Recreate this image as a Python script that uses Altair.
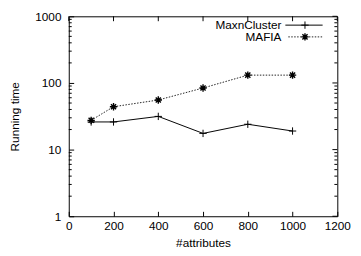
import altair as alt
import pandas as pd

# ---- data ----
attributes = [100, 200, 400, 600, 800, 1000]
maxncluster = [26, 26, 31.5, 17.5, 24, 19]
mafia = [27.5, 44, 55.5, 84, 131, 131]
series_names = ["MaxnCluster", "MAFIA"]
x_ticks = [0, 200, 400, 600, 800, 1000, 1200]
y_ticks = [1, 10, 100, 1000]
y_minor = [m * 10 ** e for e in range(3) for m in range(2, 10)]

W, H = 274, 204
FONT = "Liberation Sans"
FS = 12

xs = alt.Scale(domain=[0, 1200], nice=False, zero=False)
ys = alt.Scale(type="log", domain=[1, 1000], nice=False)

xaxis = alt.Axis(values=x_ticks, format="d", title="#attributes", offset=-5, tickSize=5,
                 domain=False, grid=False, labelPadding=5, labelFontSize=FS,
                 titleFontSize=FS, titleFontWeight="normal", labelFont=FONT,
                 titleFont=FONT, tickColor="black", labelColor="black",
                 titleColor="black", titleY=32, titleBaseline="middle",
                 labelFlush=False, labelOverlap=False)
yaxis = alt.Axis(values=y_ticks, format="d", title="Running time", offset=-5,
                 tickSize=5, domain=False, grid=False, labelPadding=8,
                 labelFontSize=FS, titleFontSize=FS, titleFontWeight="normal",
                 labelFont=FONT, titleFont=FONT, tickColor="black",
                 labelColor="black", titleColor="black", titleX=-60, titleY=102,
                 titleAngle=270, titleBaseline="middle", titleAlign="center",
                 labelFlush=False, labelOverlap=False)


def X(field="x"):
    return alt.X(f"{field}:Q", scale=xs, axis=xaxis)


def Y(field="y"):
    return alt.Y(f"{field}:Q", scale=ys, axis=yaxis)


df_max = pd.DataFrame({"x": attributes, "y": maxncluster})
df_maf = pd.DataFrame({"x": attributes, "y": mafia})

plus = "M-1,0L1,0M0,-1L0,1"
star = "M-1,0L1,0M0,-1L0,1M-0.7,-0.7L0.7,0.7M-0.7,0.7L0.7,-0.7"

line_max = alt.Chart(df_max).mark_line(color="black", strokeWidth=1).encode(x=X(), y=Y())
pts_max = alt.Chart(df_max).mark_point(shape=plus, filled=False, color="black",
                                       strokeWidth=1, size=56, opacity=1).encode(x=X(), y=Y())
line_maf = alt.Chart(df_maf).mark_line(color="#222", strokeWidth=1,
                                       strokeDash=[1.5, 1.5]).encode(x=X(), y=Y())
pts_maf = alt.Chart(df_maf).mark_point(shape=star, filled=False, color="black",
                                       strokeWidth=1.4, size=56, opacity=1).encode(x=X(), y=Y())

# mirrored ticks (right / top) and minor log ticks
df_yt = pd.DataFrame({"y": y_ticks})
df_xt = pd.DataFrame({"x": x_ticks})
df_ym = pd.DataFrame({"y": y_minor})
right_major = alt.Chart(df_yt).mark_rule(color="black").encode(
    y=Y(), x=alt.value(W - 5), x2=alt.value(W))
top_major = alt.Chart(df_xt).mark_rule(color="black").encode(
    x=X(), y=alt.value(0), y2=alt.value(5))
left_minor = alt.Chart(df_ym).mark_rule(color="black").encode(
    y=Y(), x=alt.value(0), x2=alt.value(3))
right_minor = alt.Chart(df_ym).mark_rule(color="black").encode(
    y=Y(), x=alt.value(W - 3), x2=alt.value(W))

# legend (label left, sample right, as in gnuplot)
legend_layers = []
for i, (name, shape, dash) in enumerate([(series_names[0], plus, None),
                                         (series_names[1], star, [1.5, 1.5])]):
    ly = 9 + 12 * i
    ld = pd.DataFrame({"name": [name]})
    legend_layers.append(alt.Chart(ld).mark_text(align="right", baseline="middle",
                                                 font=FONT, fontSize=FS, color="black").encode(
        text="name:N", x=alt.value(217), y=alt.value(ly)))
    rule_kw = dict(color="black", strokeWidth=1)
    if dash:
        rule_kw = dict(color="#222", strokeWidth=1, strokeDash=dash)
    legend_layers.append(alt.Chart(ld).mark_rule(**rule_kw).encode(
        x=alt.value(221 if not dash else 224), x2=alt.value(259), y=alt.value(ly)))
    legend_layers.append(alt.Chart(ld).mark_point(shape=shape, filled=False, color="black",
                                                  size=56, opacity=1,
                                                  strokeWidth=1 if not dash else 1.4).encode(
        x=alt.value(241), y=alt.value(ly)))

chart = alt.layer(
    line_max, line_maf, pts_max, pts_maf,
    right_major, top_major, left_minor, right_minor,
    *legend_layers
).properties(
    width=W, height=H,
    autosize=alt.AutoSizeParams(type="none"),
    padding={"left": 62, "top": 6, "right": 16, "bottom": 34},
    background="white",
).configure_view(stroke="black", strokeWidth=1)

chart.save("out.html", embed_options={"renderer": "svg", "actions": False})
